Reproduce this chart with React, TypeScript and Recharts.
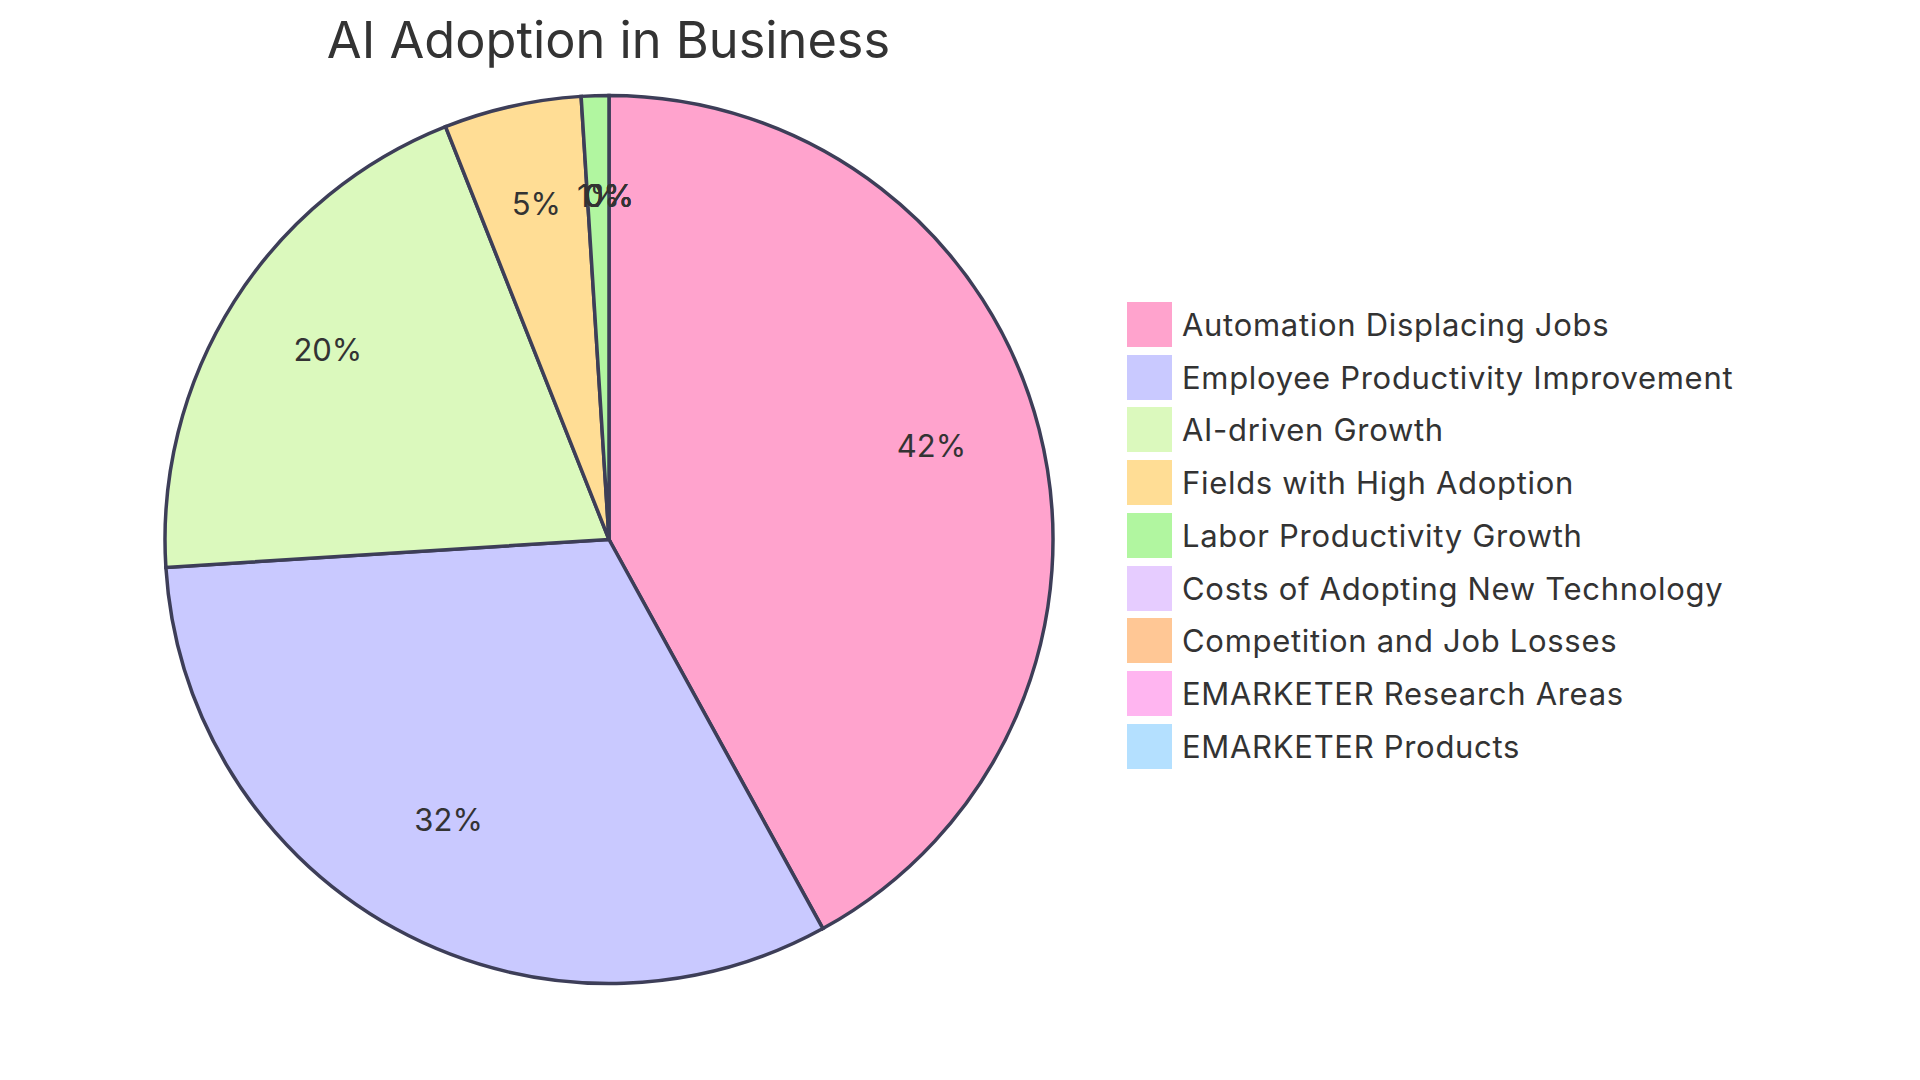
import { PieChart, Pie, Cell } from "recharts";

document.body.style.margin = "0";

const categories = [
  "Automation Displacing Jobs",
  "Employee Productivity Improvement",
  "AI-driven Growth",
  "Fields with High Adoption",
  "Labor Productivity Growth",
  "Costs of Adopting New Technology",
  "Competition and Job Losses",
  "EMARKETER Research Areas",
  "EMARKETER Products",
];

const shares = [42, 32, 20, 5, 1, 0, 0, 0, 0];

const colors = [
  "#ffa3cd",
  "#c9c9ff",
  "#dbf9bd",
  "#ffdd95",
  "#b1f6a0",
  "#e6ccff",
  "#ffc795",
  "#ffb5f0",
  "#b4e0ff",
];

const data = categories.map((name, i) => ({ name, value: shares[i] }));
const total = shares.reduce((a, b) => a + b, 0);

const FONT = "Inter, 'Noto Sans', sans-serif";
const RADIAN = Math.PI / 180;

const renderLabel = (props: any) => {
  const { cx, cy, midAngle, outerRadius, value } = props;
  const r = outerRadius * 0.75;
  const x = cx + r * Math.cos(-midAngle * RADIAN);
  const y = cy + r * Math.sin(-midAngle * RADIAN);
  return (
    <text x={x} y={y} textAnchor="middle" fill="#333" fontSize={31} fontFamily={FONT}>
      {((value / total) * 100).toFixed(0)}%
    </text>
  );
};

export default function App() {
  return (
    <div style={{ position: "relative", width: 1920, height: 1080, background: "#fff" }}>
      <div
        style={{
          position: "absolute",
          left: 0,
          width: 1217,
          top: 8,
          textAlign: "center",
          fontFamily: FONT,
          fontSize: 50.5,
          color: "#333",
          lineHeight: "64px",
        }}
      >
        AI Adoption in Business
      </div>
      <PieChart width={1920} height={1080}>
        <Pie
          data={data}
          dataKey="value"
          nameKey="name"
          cx={604}
          cy={534.5}
          outerRadius={444}
          startAngle={90}
          endAngle={-270}
          stroke="#3d3e58"
          strokeWidth={3.5}
          label={renderLabel}
          labelLine={false}
          isAnimationActive={false}
        >
          {data.map((d, i) => (
            <Cell key={d.name} fill={colors[i]} />
          ))}
        </Pie>
      </PieChart>
      <div style={{ position: "absolute", left: 1127, top: 298, fontFamily: FONT }}>
        {categories.map((name, i) => (
          <div key={name} style={{ display: "flex", alignItems: "center", height: 52.75 }}>
            <div style={{ width: 45, height: 45, background: colors[i], marginRight: 10 }} />
            <span style={{ fontSize: 31, letterSpacing: 0.7, color: "#333", whiteSpace: "nowrap" }}>
              {name}
            </span>
          </div>
        ))}
      </div>
    </div>
  );
}
